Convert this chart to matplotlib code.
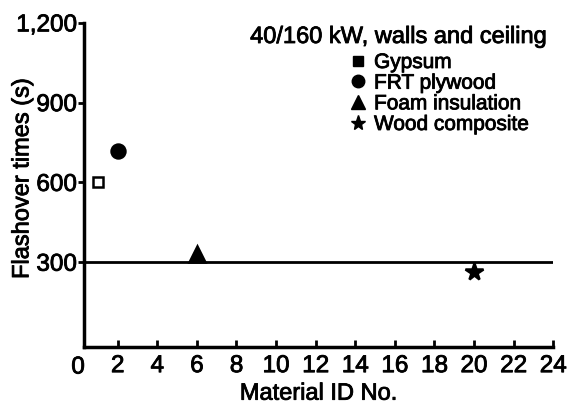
import matplotlib
matplotlib.use("Agg")
import matplotlib.pyplot as plt
import matplotlib.patheffects as pe
from matplotlib.lines import Line2D

plt.rcParams['font.family'] = ['Liberation Sans', 'DejaVu Sans']

materials = ["Gypsum", "FRT plywood", "Foam insulation", "Wood composite"]
material_id = [1, 2, 6, 20]
flashover_s = [600, 720, 330, 265]
markers = ["s", "o", "^", "*"]
filled = [False, True, True, True]
msizes = [6.5, 10, 12, 13]
threshold = 300
xticks = list(range(2, 25, 2))
yticks = [300, 600, 900, 1200]
ytick_labels = ["300", "600", "900", "1,200"]

bold = [pe.withStroke(linewidth=0.6, foreground="black")]

fig = plt.figure(figsize=(5.68, 4.08), dpi=100)
ax = fig.add_axes([0.148, 0.150, 0.826, 0.794])

ax.axhline(threshold, color="black", lw=2)
for x, y, m, f, ms in zip(material_id, flashover_s, markers, filled, msizes):
    ax.plot([x], [y], marker=m, ms=ms, color="black",
            mfc="black" if f else "white", mec="black", mew=1.8, ls="none",
            clip_on=False, zorder=3)

ax.set_xlim(0.3, 24.0)
ax.set_ylim(-18, 1200)
ax.set_xticks(xticks)
ax.set_yticks(yticks)
ax.set_yticklabels(ytick_labels)
ax.tick_params(axis="x", direction="in", length=5, width=2, labelsize=17.5, pad=6)
ax.tick_params(axis="y", direction="out", length=4, width=2, labelsize=17.5, pad=1)
zero = ax.text(0, -0.03, "0", transform=ax.get_xaxis_transform(), ha="center", va="top", fontsize=17.5)

for s in ["top", "right"]:
    ax.spines[s].set_visible(False)
for s in ["left", "bottom"]:
    ax.spines[s].set_linewidth(2.5)

ax.set_xlabel("Material ID No.", fontsize=17, labelpad=4)
ax.set_ylabel("Flashover times (s)", fontsize=17)
ax.yaxis.set_label_coords(-0.108, 0.52)

title = fig.text(548 / 568, 1 - 37 / 408, "40/160 kW, walls and ceiling", ha="right", va="center", fontsize=17)

handles = [Line2D([], [], marker=m, color="black", mfc="black", ls="none", ms=ms)
           for m, ms in zip(markers, [7, 9, 10, 11])]
leg = fig.legend(handles, materials, loc="upper left", bbox_to_anchor=(348 / 568, 1 - 53 / 408),
                 frameon=False, fontsize=15, handletextpad=0.25, labelspacing=0.08,
                 borderaxespad=0, borderpad=0, handlelength=1.0)

texts = ax.get_xticklabels() + ax.get_yticklabels() + [zero, title, ax.xaxis.label, ax.yaxis.label] + leg.get_texts()
for t in texts:
    t.set_path_effects(bold)

fig.savefig("out.png", dpi=100)
